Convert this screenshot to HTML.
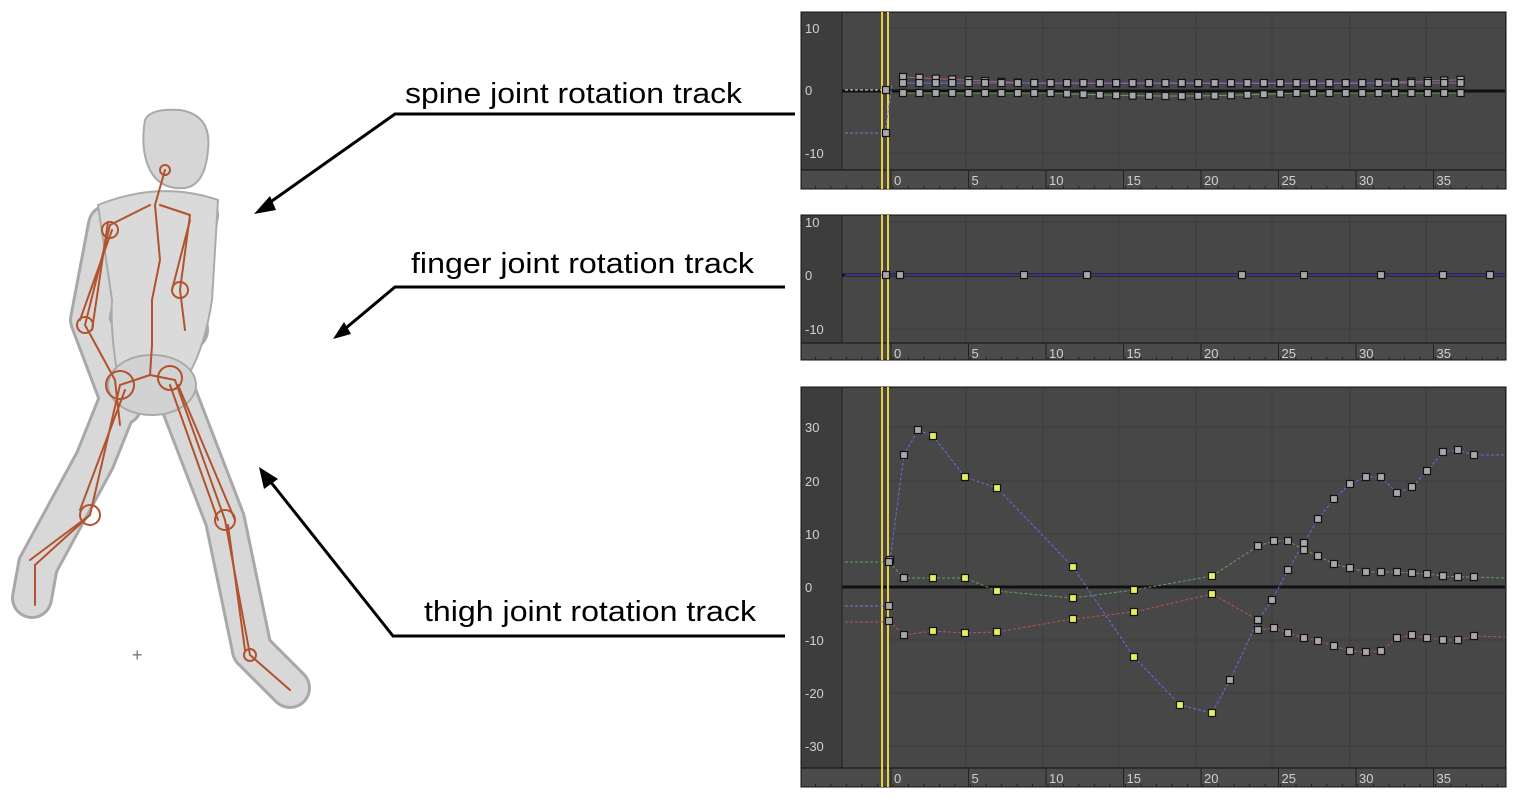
<!DOCTYPE html>
<html><head><meta charset="utf-8"><style>
html,body{margin:0;padding:0;background:#fff;width:1519px;height:803px;overflow:hidden}
svg{display:block}
</style></head><body>
<svg id="s" width="1519" height="803" viewBox="0 0 1519 803" xmlns="http://www.w3.org/2000/svg" font-family="Liberation Sans, sans-serif">
<!-- figure -->
<g stroke-linecap="round" stroke-linejoin="round" fill="none">
 <g stroke="#a8a8a8" stroke-width="42">
  <path d="M125 385 L95 460 L38 565"/>
  <path d="M175 390 L225 520 L252 650"/>
  <path d="M108 225 L90 320 L122 405"/>
  <path d="M198 215 L185 290 L188 330"/>
  <path d="M252 650 L290 688"/>
  <path d="M38 565 L32 598"/>
 </g>
 <g stroke="#d8d8d8" stroke-width="36">
  <path d="M125 385 L95 460 L38 565"/>
  <path d="M175 390 L225 520 L252 650"/>
  <path d="M108 225 L90 320 L122 405"/>
  <path d="M198 215 L185 290 L188 330"/>
  <path d="M252 650 L290 688"/>
  <path d="M38 565 L32 598"/>
 </g>
 <path d="M98 205 Q160 180 218 200 L212 300 Q205 345 190 372 L118 378 Q110 330 112 300 Z" fill="#dadada" stroke="#aaa" stroke-width="2"/>
 <ellipse cx="152" cy="385" rx="44" ry="30" fill="#d2d2d2" stroke="#aaa" stroke-width="2"/>
 <path d="M145 120 Q150 108 180 110 Q212 115 208 150 Q205 185 185 188 Q160 190 150 170 Q140 150 145 120 Z" fill="#d6d6d6" stroke="#aaa" stroke-width="2"/>
 <g stroke="#b0532e" stroke-width="2">
  <path d="M165 170 L155 205 L160 260 L152 300 L152 345 L150 375"/>
  <path d="M150 205 L110 225 L85 325 L115 380 L120 425"/>
  <path d="M160 205 L190 215 L180 290 L185 330"/>
  <path d="M150 375 L120 385 L90 515 L35 565 L35 605"/>
  <path d="M150 375 L175 380 L225 520 L250 655 L290 690"/>
  <path d="M112 230 L80 320 M108 222 L92 330 M190 220 L172 290 M125 390 L80 510 M170 385 L218 520 M178 385 L235 520 M228 525 L245 650 M90 515 L30 560"/>
 </g>
 <g fill="none" stroke="#b0532e" stroke-width="2">
  <circle cx="110" cy="230" r="8"/><circle cx="85" cy="325" r="8"/><circle cx="180" cy="290" r="8"/>
  <circle cx="120" cy="385" r="14"/><circle cx="170" cy="378" r="12"/><circle cx="90" cy="515" r="10"/>
  <circle cx="225" cy="520" r="10"/><circle cx="165" cy="170" r="5"/><circle cx="250" cy="655" r="6"/>
 </g>
</g>
<text x="132" y="661" font-size="18" fill="#777">+</text>

<!-- arrows and labels -->
<g stroke="#000" stroke-width="3" fill="none">
 <path d="M795 114 L395 114 L262 208"/>
 <path d="M785 287 L395 287 L340 333"/>
 <path d="M785 636 L393 636 L266 476"/>
</g>
<g fill="#000">
 <polygon points="254,214 270,196 276,210"/>
 <polygon points="333,339 344,322 351,334"/>
 <polygon points="259,467 264,489 278,479"/>
</g>
<g font-size="29" fill="#000">
 <text x="405" y="103" textLength="337" lengthAdjust="spacingAndGlyphs">spine joint rotation track</text>
 <text x="411" y="273" textLength="343" lengthAdjust="spacingAndGlyphs">finger joint rotation track</text>
 <text x="424" y="621" textLength="332" lengthAdjust="spacingAndGlyphs">thigh joint rotation track</text>
</g>
<g id="panels"></g>
</svg>
<script>
var ns="http://www.w3.org/2000/svg",P=document.getElementById('panels');
function el(t,a,txt){var e=document.createElementNS(ns,t);for(var k in a)e.setAttribute(k,a[k]);if(txt!==undefined)e.textContent=txt;P.appendChild(e);return e;}
var vx=[966,1043,1119,1196,1272,1350,1426];
function panel(y0,y1,tl,labels,zeroY){
 el('rect',{x:801,y:y0,width:705,height:y1-y0,fill:'#3d3d3d',stroke:'#111','stroke-width':1});
 el('rect',{x:842,y:y0+1,width:663,height:tl-y0-1,fill:'#474747'});
 el('line',{x1:842,y1:y0,x2:842,y2:tl,stroke:'#222','stroke-width':1});
 vx.forEach(function(x){el('line',{x1:x,y1:y0+1,x2:x,y2:tl,stroke:'#3e3e3e','stroke-width':1});});
 labels.forEach(function(l){el('line',{x1:890,y1:l[1],x2:1505,y2:l[1],stroke:'#3e3e3e','stroke-width':1});
  el('text',{x:805,y:l[1]+5,'font-size':13,fill:'#d0d0d0'},l[0]);});
 el('line',{x1:842,y1:zeroY,x2:1505,y2:zeroY,stroke:'#111','stroke-width':3});
 el('rect',{x:801,y:tl,width:705,height:y1-tl,fill:'#4b4b4b',stroke:'#111','stroke-width':1});
 for(var f=-5;f<=39;f++){var x=893+15.5*f;el('line',{x1:x,y1:y1-3,x2:x,y2:y1,stroke:'#222'});}
 for(var f=0;f<=35;f+=5){var x=891+15.5*f;el('line',{x1:x,y1:tl,x2:x,y2:y1,stroke:'#222'});
  el('text',{x:x+3,y:tl+15,'font-size':13,fill:'#d0d0d0'},String(f));}
 el('rect',{x:881,y:y0,width:2,height:y1-y0,fill:'#e8d040'});
 el('rect',{x:887,y:y0,width:2,height:y1-y0,fill:'#e8d040'});
}
function key(x,y,c){el('rect',{x:x-3.5,y:y-3.5,width:7,height:7,fill:c||'#a8a8a8',stroke:'#111','stroke-width':1.2});}
function line(pts,c,d){el('polyline',{points:pts.map(function(p){return p.join(',')}).join(' '),fill:'none',stroke:c,'stroke-width':1,'stroke-dasharray':d||''});}
// panel 1
panel(12,189,170,[['10',28],['0',90],['-10',153]],91);
line([[845,133],[885,133],[892,85]],'#7878d0','3,2');
line([[845,90],[885,90]],'#ddd','3,2');
var a=[],b=[],c=[];
for(var i=0;i<35;i++){var x=903+16.4*i;a.push([x,77+Math.min(i,8)*0.8+(i>28?-(i-28)*0.6:0)]);b.push([x,83]);c.push([x,93-(i<9?0:(i<24?Math.sin((i-9)/15*3.14)*-3:0))]);}
line(a,'#b06060');line(b,'#6a6ae0');line(c,'#60a060');
a.concat(b,c).forEach(function(p){key(p[0],p[1]);});
key(886,90);key(886,133);
// panel 2
panel(215,360,343,[['10',222],['0',275],['-10',329]],275);
line([[845,275],[1505,275]],'#5a5ae8');
[886,900,1024,1087,1242,1304,1381,1443,1490].forEach(function(x){key(x,275);});
// panel 3
panel(387,787,768,[['30',427],['20',481],['10',534],['0',587],['-10',640],['-20',693],['-30',746]],587);
var Y='#e6ee60';
var blue=[[890,560],[904,455],[918,430],[933,436],[965,477],[997,488],[1073,567],[1134,657],[1180,705],[1212,713],[1230,680],[1258,620],[1272,600],[1288,570],[1304,543],[1318,519],[1334,499],[1350,484],[1366,477],[1381,477],[1397,493],[1412,487],[1427,471],[1443,452],[1458,450],[1474,455],[1505,455]];
var green=[[889,562],[904,578],[933,578],[965,578],[997,591],[1073,598],[1134,590],[1212,576],[1258,546],[1274,541],[1288,541],[1304,550],[1318,556],[1334,564],[1350,568],[1366,572],[1381,572],[1397,572],[1412,573],[1427,574],[1443,576],[1458,577],[1474,577],[1505,578]];
var red=[[889,621],[904,635],[933,631],[965,633],[997,632],[1073,619],[1134,612],[1212,594],[1258,620],[1258,630],[1274,628],[1288,633],[1304,638],[1318,641],[1334,646],[1350,651],[1366,652],[1381,651],[1397,638],[1412,635],[1427,638],[1443,640],[1458,640],[1474,636],[1505,637]];
line([[845,606],[888,606]],'#7878d0','3,2');line([[845,562],[888,562]],'#60a060','3,2');line([[845,622],[888,622]],'#c05050','3,2');
line(blue,'#6a6ae8','3,2');line(green,'#60a060','3,2');line(red,'#c05050','3,2');
[blue,green,red].forEach(function(s){s.forEach(function(p,i){if(p[0]>=1505)return;if(i==0&&s!==blue)return;
 var yel=(p[0]>=930&&p[0]<=1215);key(p[0],p[1],yel?Y:null);});});
key(889,606);key(889,562);key(889,621);
</script>
</body></html>
